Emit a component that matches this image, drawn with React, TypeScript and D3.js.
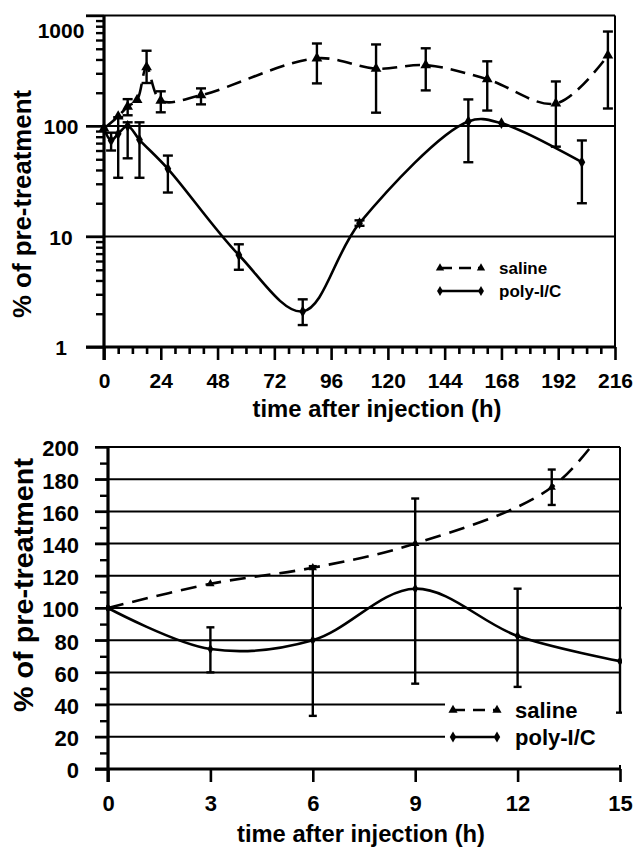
import React, { useEffect, useRef } from 'react';
import * as d3 from 'd3';

const W = 638;
const H = 849;
const FONT = '"Liberation Sans", Arial, Helvetica, sans-serif';

// top panel: long time course, log scale
const longTicks = [0, 24, 48, 72, 96, 120, 144, 168, 192, 216];
const logTicks = [1, 10, 100, 1000];

const longSalineTime = [0, 6, 10, 14, 18, 24, 41, 90, 115, 136, 162, 191, 213];
const longSalineValue = [95, 122, 150, 172, 340, 170, 190, 410, 330, 355, 265, 160, 435];
const longSalineLow = [null, null, 125, null, 245, 133, 157, 243, 132, 210, 138, 65, 144];
const longSalineHigh = [null, null, 175, null, 480, 206, 219, 558, 547, 505, 385, 253, 716];

const longPolyTime = [0, 3, 6, 10, 15, 27, 57, 84, 108, 154, 168, 202];
const longPolyValue = [95, 74, 85, 100, 75, 41, 6.8, 2.1, 13.2, 110, 106, 47];
const longPolyLow = [null, 60, 34, 51, 34, 25, 5, 1.58, 12.5, 47, null, 20];
const longPolyHigh = [null, 87, 120, 108, 108, 54, 8.5, 2.7, 14, 174, null, 74];

// bottom panel: first 15 h, linear scale
const shortTicks = [0, 3, 6, 9, 12, 15];
const linTicks = [0, 20, 40, 60, 80, 100, 120, 140, 160, 180, 200];

const shortSalineTime = [0, 3, 6, 9, 13, 15];
const shortSalineValue = [100, 115, 125, 140, 175, 225];
const shortSalineLow = [null, null, null, null, 164, null];
const shortSalineHigh = [null, null, null, null, 186, null];

const shortPolyTime = [0, 3, 6, 9, 12, 15];
const shortPolyValue = [100, 74.5, 80, 112, 82.6, 67];
const shortPolyLow = [null, 60, 33, 53, 51, 35];
const shortPolyHigh = [null, 88, 126, 168, 112, 100];

const legendLabels = ['saline', 'poly-I/C'];

const App = () => {
  const ref = useRef(null);

  useEffect(() => {
    const svg = d3.select(ref.current);
    svg.selectAll('*').remove();

    const drawSeries = (g, x, y, times, values, lows, highs, dashed, symbol, symSize, capW, clipId) => {
      const pts = times.map((t, i) => ({ t, v: values[i], lo: lows[i], hi: highs[i] }));
      const holder = clipId ? g.append('g').attr('clip-path', `url(#${clipId})`) : g.append('g');
      const line = d3.line()
        .x(d => x(d.t))
        .y(d => y(d.v))
        .curve(d3.curveCatmullRom.alpha(0.5));
      holder.append('path')
        .datum(pts)
        .attr('fill', 'none')
        .attr('stroke', '#000')
        .attr('stroke-width', 2.6)
        .attr('stroke-dasharray', dashed || null)
        .attr('d', line);

      // error bars
      pts.filter(d => d.lo != null).forEach(d => {
        const cx = x(d.t);
        holder.append('line')
          .attr('x1', cx).attr('x2', cx)
          .attr('y1', y(d.lo)).attr('y2', y(d.hi))
          .attr('stroke', '#000').attr('stroke-width', 2.4);
        [d.lo, d.hi].forEach(v => {
          holder.append('line')
            .attr('x1', cx - capW / 2).attr('x2', cx + capW / 2)
            .attr('y1', y(v)).attr('y2', y(v))
            .attr('stroke', '#000').attr('stroke-width', 2.4);
        });
      });

      holder.selectAll(null)
        .data(pts)
        .enter()
        .append('path')
        .attr('transform', d => `translate(${x(d.t)},${y(d.v)})`)
        .attr('d', d3.symbol(symbol, symSize))
        .attr('fill', '#000');
    };

    const drawLegend = (g, x0, x1, ys, textX, fs, dash, symSizes) => {
      const specs = [
        { dash, symbol: d3.symbolTriangle, size: symSizes[0] },
        { dash: null, symbol: d3.symbolDiamond, size: symSizes[1] }
      ];
      specs.forEach((s, i) => {
        const yy = ys[i];
        g.append('line')
          .attr('x1', x0).attr('x2', x1)
          .attr('y1', yy).attr('y2', yy)
          .attr('stroke', '#000').attr('stroke-width', 2.6)
          .attr('stroke-dasharray', s.dash);
        [x0, x1].forEach(xx => {
          g.append('path')
            .attr('transform', `translate(${xx},${yy})`)
            .attr('d', d3.symbol(s.symbol, s.size))
            .attr('fill', '#000');
        });
        g.append('text')
          .attr('x', textX)
          .attr('y', yy)
          .attr('dy', '0.36em')
          .style('font-family', FONT)
          .style('font-weight', 'bold')
          .style('font-size', `${fs}px`)
          .text(legendLabels[i]);
      });
    };

    // ---------- top panel ----------
    const top = svg.append('g');
    const x1 = d3.scaleLinear().domain([0, 216]).range([104, 615]);
    const y1 = d3.scaleLog().domain([1, 1000]).range([347, 15.5]);

    // grid + frame
    [10, 100, 1000].forEach(v => {
      top.append('line')
        .attr('x1', 86).attr('x2', 615)
        .attr('y1', y1(v)).attr('y2', y1(v))
        .attr('stroke', '#000').attr('stroke-width', 2);
    });
    top.append('line')
      .attr('x1', 615).attr('x2', 615)
      .attr('y1', y1(1000)).attr('y2', y1(1))
      .attr('stroke', '#000').attr('stroke-width', 2);

    // y axis
    const minorLog = [];
    [1, 10, 100].forEach(d => { for (let k = 2; k <= 9; k++) minorLog.push(d * k); });
    const yMinor1 = top.append('g').attr('transform', 'translate(104,0)')
      .call(d3.axisLeft(y1).tickValues(minorLog).tickSize(8).tickFormat(() => ''));
    const yMajor1 = top.append('g').attr('transform', 'translate(104,0)')
      .call(d3.axisLeft(y1).tickValues(logTicks).tickSize(18).tickFormat(d3.format('d')));
    [yMinor1, yMajor1].forEach(a => {
      a.select('.domain').remove();
      a.selectAll('line').attr('stroke-width', 2.4);
    });
    yMajor1.selectAll('text')
      .attr('x', -43)
      .attr('text-anchor', 'middle')
      .attr('dy', d => (d === 1000 ? '1.05em' : '0.37em'))
      .style('font-family', FONT)
      .style('font-weight', 'bold')
      .style('font-size', '21px')
      .attr('fill', '#000');

    // x axis
    const minorLong = d3.range(0, 217, 6).filter(v => v % 24 !== 0);
    const xMinor1 = top.append('g').attr('transform', 'translate(0,347)')
      .call(d3.axisBottom(x1).tickValues(minorLong).tickSize(7).tickFormat(() => ''));
    const xMajor1 = top.append('g').attr('transform', 'translate(0,347)')
      .call(d3.axisBottom(x1).tickValues(longTicks).tickSize(13));
    [xMinor1, xMajor1].forEach(a => {
      a.select('.domain').remove();
      a.selectAll('line').attr('stroke-width', 2.6);
    });
    xMajor1.selectAll('text')
      .attr('y', 26)
      .style('font-family', FONT)
      .style('font-weight', 'bold')
      .style('font-size', '21px')
      .attr('fill', '#000');

    top.append('line').attr('x1', 86).attr('x2', 615).attr('y1', 347).attr('y2', 347)
      .attr('stroke', '#000').attr('stroke-width', 3.2);
    top.append('line').attr('x1', 104).attr('x2', 104).attr('y1', 15).attr('y2', 360)
      .attr('stroke', '#000').attr('stroke-width', 3.2);

    drawSeries(top, x1, y1, longPolyTime, longPolyValue, longPolyLow, longPolyHigh,
      null, d3.symbolDiamond, 40, 10, null);
    drawSeries(top, x1, y1, longSalineTime, longSalineValue, longSalineLow, longSalineHigh,
      '15 8', d3.symbolTriangle, 50, 10, null);

    drawLegend(top, 440, 481, [268, 291], 499, 17, '12 7', [30, 30]);

    top.append('text')
      .attr('transform', 'rotate(-90)')
      .attr('x', -204)
      .attr('y', 31)
      .attr('text-anchor', 'middle')
      .attr('textLength', 228)
      .attr('lengthAdjust', 'spacingAndGlyphs')
      .style('font-family', FONT)
      .style('font-weight', 'bold')
      .style('font-size', '26px')
      .text('% of pre-treatment');
    top.append('text')
      .attr('x', 377)
      .attr('y', 417)
      .attr('text-anchor', 'middle')
      .attr('textLength', 249)
      .attr('lengthAdjust', 'spacingAndGlyphs')
      .style('font-family', FONT)
      .style('font-weight', 'bold')
      .style('font-size', '23px')
      .text('time after injection (h)');

    // ---------- bottom panel ----------
    const bot = svg.append('g');
    const x2 = d3.scaleLinear().domain([0, 15]).range([108, 620]);
    const y2 = d3.scaleLinear().domain([0, 200]).range([769, 447]);

    svg.append('defs').append('clipPath').attr('id', 'plot2')
      .append('rect').attr('x', 106).attr('y', y2(200)).attr('width', 516).attr('height', y2(0) - y2(200));

    linTicks.filter(v => v > 0).forEach(v => {
      bot.append('line')
        .attr('x1', 95).attr('x2', 620)
        .attr('y1', y2(v)).attr('y2', y2(v))
        .attr('stroke', '#000').attr('stroke-width', 2);
    });
    bot.append('line')
      .attr('x1', 620).attr('x2', 620)
      .attr('y1', y2(200)).attr('y2', y2(0))
      .attr('stroke', '#000').attr('stroke-width', 2);

    // legend backing hides part of the grid
    bot.append('rect')
      .attr('x', 445).attr('y', 689).attr('width', 182).attr('height', 76)
      .attr('fill', '#fff');

    const yMinor2 = bot.append('g').attr('transform', 'translate(108,0)')
      .call(d3.axisLeft(y2).tickValues(d3.range(10, 200, 20)).tickSize(8).tickFormat(() => ''));
    const yMajor2 = bot.append('g').attr('transform', 'translate(108,0)')
      .call(d3.axisLeft(y2).tickValues(linTicks).tickSize(13));
    [yMinor2, yMajor2].forEach(a => {
      a.select('.domain').remove();
      a.selectAll('line').attr('stroke-width', 2.4);
    });
    yMajor2.selectAll('text')
      .attr('x', -29)
      .attr('dy', '0.4em')
      .style('font-family', FONT)
      .style('font-weight', 'bold')
      .style('font-size', '22px')
      .attr('fill', '#000');

    const xMajor2 = bot.append('g').attr('transform', 'translate(0,769)')
      .call(d3.axisBottom(x2).tickValues(shortTicks).tickSize(13));
    xMajor2.select('.domain').remove();
    xMajor2.selectAll('line').attr('stroke-width', 2.6);
    xMajor2.selectAll('text')
      .attr('y', 26)
      .style('font-family', FONT)
      .style('font-weight', 'bold')
      .style('font-size', '22px')
      .attr('fill', '#000');

    bot.append('line').attr('x1', 95).attr('x2', 620).attr('y1', 769).attr('y2', 769)
      .attr('stroke', '#000').attr('stroke-width', 3.2);
    bot.append('line').attr('x1', 108).attr('x2', 108).attr('y1', 447).attr('y2', 782)
      .attr('stroke', '#000').attr('stroke-width', 3.2);

    drawSeries(bot, x2, y2, shortPolyTime, shortPolyValue, shortPolyLow, shortPolyHigh,
      null, d3.symbolDiamond, 30, 8, 'plot2');
    drawSeries(bot, x2, y2, shortSalineTime, shortSalineValue, shortSalineLow, shortSalineHigh,
      '16 9', d3.symbolTriangle, 30, 8, 'plot2');

    drawLegend(bot, 453, 497, [710, 737], 515, 22, '12 8', [36, 36]);

    bot.append('text')
      .attr('transform', 'rotate(-90)')
      .attr('x', -585)
      .attr('y', 33)
      .attr('text-anchor', 'middle')
      .attr('textLength', 254)
      .attr('lengthAdjust', 'spacingAndGlyphs')
      .style('font-family', FONT)
      .style('font-weight', 'bold')
      .style('font-size', '28px')
      .text('% of pre-treatment');
    bot.append('text')
      .attr('x', 361)
      .attr('y', 842)
      .attr('text-anchor', 'middle')
      .attr('textLength', 248)
      .attr('lengthAdjust', 'spacingAndGlyphs')
      .style('font-family', FONT)
      .style('font-weight', 'bold')
      .style('font-size', '23px')
      .text('time after injection (h)');
  }, []);

  return (
    <svg
      ref={ref}
      width={W}
      height={H}
      style={{ position: 'absolute', left: 0, top: 0, background: '#fff' }}
    />
  );
};

export default App;
